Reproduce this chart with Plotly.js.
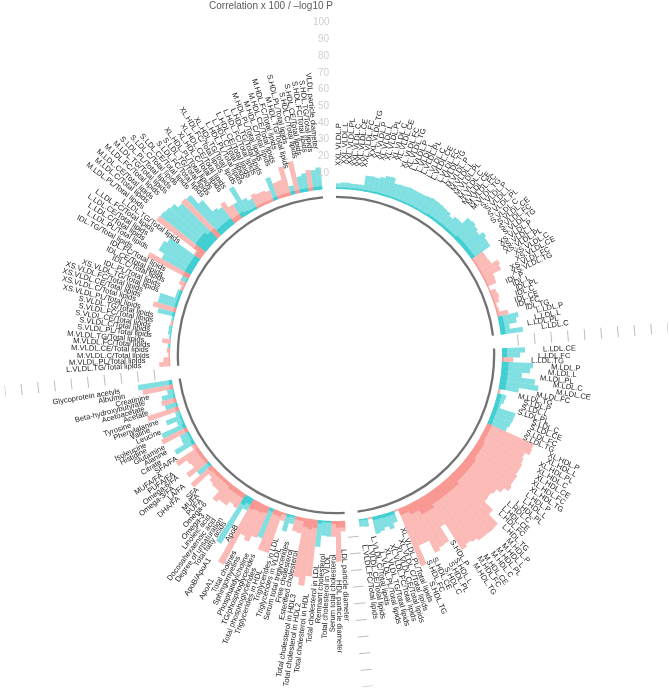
<!DOCTYPE html>
<html>
<head>
<meta charset="utf-8">
<script src="https://cdn.plot.ly/plotly-3.0.1.min.js"></script>
<style>html,body{margin:0;padding:0;background:#fff}#chart{width:669px;height:691px;filter:blur(0.35px)}</style>
</head>
<body>
<div id="chart"></div>
<script>
const labels1 = ["XXL.VLDL.P","XXL.VLDL.L","XXL.VLDL.PL","XXL.VLDL.C","XXL.VLDL.CE","XXL.VLDL.FC","XXL.VLDL.TG",
"XL.VLDL.P","XL.VLDL.L","XL.VLDL.PL","XL.VLDL.C","XL.VLDL.CE","XL.VLDL.FC","XL.VLDL.TG",
"L.VLDL.P","L.VLDL.L","L.VLDL.PL","L.VLDL.C","L.VLDL.CE","L.VLDL.FC","L.VLDL.TG",
"M.VLDL.P","M.VLDL.L","M.VLDL.PL","M.VLDL.C","M.VLDL.CE","M.VLDL.FC","M.VLDL.TG",
"S.VLDL.P","S.VLDL.L","S.VLDL.PL","S.VLDL.C","S.VLDL.CE","S.VLDL.FC","S.VLDL.TG",
"XS.VLDL.P","XS.VLDL.L","XS.VLDL.PL","XS.VLDL.C","XS.VLDL.CE","XS.VLDL.FC","XS.VLDL.TG",
"IDL.P","IDL.L","IDL.PL","IDL.C","IDL.CE","IDL.FC","IDL.TG",
"L.LDL.P","L.LDL.L","L.LDL.PL","L.LDL.C"];
const corr1 = [-3.4,-4,-4,-3.6,-3.6,-3.7,-9.6,-9.8,-9.5,-10.7,-12,-12.3,-9.2,-9.6,-9.8,-10.2,-10,-10,-10,-10.5,-10.9,-10.8,-10.5,-10,-9.6,-8,-9.9,-9.8,-14.5,-15,-14,-12.7,-15.3,-14,-13.8,8,8,8.5,13,12,6.4,6,0.5,3.9,4.5,3.5,1.5,2,6.8,-12.3,-10.6,-6,-13.6];
const logp1 = [1,1,1,1,1,1,1,1,1,1,1,1,1,1,1,1,1,1,1,1,1,1.5,1.5,1.5,1.5,1.5,1.5,1.5,1.5,2.5,2.5,2.5,2.5,2.5,2.5,0.8,0.8,0.8,0.8,0.8,0.8,0.8,0.8,0.8,0.8,0.8,0.8,0.8,0.8,3,3,3,3];

const labels2 = ["L.LDL.CE","L.LDL.FC","L.LDL.TG",
"M.LDL.P","M.LDL.L","M.LDL.PL","M.LDL.C","M.LDL.CE","M.LDL.FC","M.LDL.TG",
"S.LDL.P","S.LDL.L","S.LDL.PL","S.LDL.C","S.LDL.CE","S.LDL.FC","S.LDL.TG",
"XL.HDL.P","XL.HDL.L","XL.HDL.PL","XL.HDL.C","XL.HDL.CE","XL.HDL.FC","XL.HDL.TG",
"L.HDL.P","L.HDL.L","L.HDL.PL","L.HDL.C","L.HDL.CE","L.HDL.FC","L.HDL.TG",
"M.HDL.P","M.HDL.L","M.HDL.PL","M.HDL.C","M.HDL.CE","M.HDL.FC","M.HDL.TG",
"S.HDL.P","S.HDL.L","S.HDL.PL","S.HDL.C","S.HDL.CE","S.HDL.FC","S.HDL.TG",
"XL.VLDL.PL/Total lipids","XL.VLDL.C/Total lipids","XL.VLDL.CE/Total lipids","XL.VLDL.FC/Total lipids","XL.VLDL.TG/Total lipids",
"L.VLDL.PL/Total lipids","L.VLDL.C/Total lipids","L.VLDL.CE/Total lipids","L.VLDL.FC/Total lipids"];
const corr2 = [-13.8,-10.8,6.8,-18.7,-17.2,-12.6,-20.8,-23.3,-12,1.5,-5.5,-5,-3.8,-13.7,-13.5,-13,-12,30.5,31,28,29,30,30,31,31,32,29,26,25,25.5,32.7,40.7,41,40.7,40.7,39,38,39.6,21,31,31.4,33,25,25,37,1,-7,-10,-8,-9.5,-10.5,1,-5,-4.5];
const logp2 = [3,3,1,4,4,4,4,4,4,0.5,2.5,2.5,2.5,2.5,2.5,2.5,2.5,3,3,3,3,4,4,4,4,5.4,5.4,5.4,5.4,5.4,5.4,7,7,7,7,7,7,7,9,9,9,6,6,4,4,0.5,2,2,2,2,2,0.5,0.8,0.8];

const labels3 = ["LDL particle diameter","HDL particle diameter","Serum total cholesterol","Total cholesterol in VLDL","Remnant cholesterol","Total cholesterol in LDL","Total cholesterol in HDL","Total cholesterol in HDL2","Total cholesterol in HDL3","Esterified cholesterol","Free cholesterol","Serum total triglycerides","Triglycerides in VLDL","Triglycerides in LDL","Triglycerides in HDL","Total phosphoglycerides","TG/phosphoglycerides","Phosphatidylcholine","Sphingomyelins","Total cholines","ApoA1","ApoB","ApoB/ApoA1","Total fatty acids","Degree of unsaturation","Docosahexaenoic acid","Linoleic acid","Omega-3","Omega-6","PUFA","MUFA","SFA","DHA/FA","LA/FA","Omega-3/FA","Omega-6/FA","PUFA/FA","MUFA/FA","SFA/FA","Citrate","Alanine","Glutamine","Histidine","Isoleucine","Leucine","Valine","Phenylalanine","Tyrosine","Acetate","Acetoacetate","Beta-hydroxybutyrate","Creatinine","Albumin","Glycoprotein acetyls"];
const corr3 = [6.4,24.4,9.4,-9.5,-9,-16,34,40,35.6,9.5,9,-5,-10.5,5,26,26,-19,20,24,22,43,-8,-33,10,9,12,12,14,8,8,7,5,16.8,-9.3,15,9,10,16,3,-13,-6.4,-6,17,-15.4,-4,-10,-3,19.5,-7.5,9,-8,-4,18.4,-20.7];
const logp3 = [4,4,2,1,1,2,5,6,5,2,2,0.8,1.5,1,3,3,2,4,5,5,6,4,6,3,3,3,3,2,2,2,2,2,3,1.5,2,2,2,2,1,2,1,1,2,2,1,1,0.5,2,1,1.5,1,0.5,2,2];

const labels4 = ["L.VLDL.TG/Total lipids",
"M.VLDL.PL/Total lipids","M.VLDL.C/Total lipids","M.VLDL.CE/Total lipids","M.VLDL.FC/Total lipids","M.VLDL.TG/Total lipids",
"S.VLDL.PL/Total lipids","S.VLDL.C/Total lipids","S.VLDL.CE/Total lipids","S.VLDL.FC/Total lipids","S.VLDL.TG/Total lipids",
"XS.VLDL.PL/Total lipids","XS.VLDL.C/Total lipids","XS.VLDL.CE/Total lipids","XS.VLDL.FC/Total lipids","XS.VLDL.TG/Total lipids",
"IDL.PL/Total lipids","IDL.C/Total lipids","IDL.CE/Total lipids","IDL.FC/Total lipids","IDL.TG/Total lipids",
"L.LDL.PL/Total lipids","L.LDL.C/Total lipids","L.LDL.CE/Total lipids","L.LDL.FC/Total lipids","L.LDL.TG/Total lipids",
"M.LDL.PL/Total lipids","M.LDL.C/Total lipids","M.LDL.CE/Total lipids","M.LDL.FC/Total lipids","M.LDL.TG/Total lipids",
"S.LDL.PL/Total lipids","S.LDL.C/Total lipids","S.LDL.CE/Total lipids","S.LDL.FC/Total lipids","S.LDL.TG/Total lipids",
"XL.HDL.PL/Total lipids","XL.HDL.C/Total lipids","XL.HDL.CE/Total lipids","XL.HDL.FC/Total lipids","XL.HDL.TG/Total lipids",
"L.HDL.PL/Total lipids","L.HDL.C/Total lipids","L.HDL.CE/Total lipids","L.HDL.FC/Total lipids","L.HDL.TG/Total lipids",
"M.HDL.PL/Total lipids","M.HDL.C/Total lipids","M.HDL.CE/Total lipids","M.HDL.FC/Total lipids","M.HDL.TG/Total lipids",
"S.HDL.PL/Total lipids","S.HDL.C/Total lipids","S.HDL.CE/Total lipids","S.HDL.FC/Total lipids","S.HDL.TG/Total lipids",
"VLDL particle diameter"];
const corr4 = [6.6,4,1,2,-1.5,5,-1,-2,-2,1.5,-1.5,-10.5,14.2,-12,-12,-3,-3,2,4,-4,28,-20,-24,-24,-22,5,35,-34.7,-34,-33,-30,30.8,-30,-23,-14,-12.4,14.3,10,-9.6,-18.9,-9,-7,9,8,8,7,-14.3,10,10.4,18,-5.4,19.6,-9.7,-11,12.6,-12.1,-13.4];
const logp4 = [0.4,0.4,0.4,0.4,0.4,0.4,0.4,0.4,0.4,0.4,0.4,1.5,1.5,1.5,1.5,1.5,1.5,0.8,0.8,0.8,4,4,4,4,4,4,7,8,8,8,6,6,4,4,4,4,3,3,3,2,1.5,1.5,1.5,1.5,1.5,1.5,2,2,2,2,2,2,2,2,2,2,2];

const tickValues = [10,20,30,40,50,60,70,80,90,100];
const titleText = "Correlation x 100 / \u2013log10 P";
const sectionLabels = [labels1, labels2, labels3, labels4];
const sectionCorr = [corr1, corr2, corr3, corr4];
const sectionLogp = [logp1, logp2, logp3, logp4];

const POS = "#F8766D", NEG = "#00BFC4";
const W = 669, H = 691, CX = 336, CY = 355, R = 333;
const PX_PER_UNIT = 1.67, R0 = 166, GAP_SLOTS = 3;
const totalSlots = sectionLabels.reduce((a, s) => a + s.length + GAP_SLOTS, 0);
const step = 360 / totalSlots;
const rMin = -R0 / PX_PER_UNIT, rMax = rMin + R / PX_PER_UNIT;

const theta = [], corrAbs = [], logp = [], colors = [], labels = [];
const ringTheta = [], ringWidth = [], gapCentre = [];
let slot = 0;
sectionLabels.forEach((names, s) => {
  ringTheta.push((slot + names.length / 2) * step);
  ringWidth.push(names.length * step);
  names.forEach((n, i) => {
    theta.push((slot + i + 0.5) * step);
    corrAbs.push(Math.abs(sectionCorr[s][i]));
    logp.push(sectionLogp[s][i]);
    colors.push(sectionCorr[s][i] >= 0 ? POS : NEG);
    labels.push(n);
  });
  slot += names.length;
  gapCentre.push((slot + GAP_SLOTS / 2) * step);
  slot += GAP_SLOTS;
});

// tick marks in the three lower gaps
const tTheta = [], tR = [];
gapCentre.slice(0, 3).forEach(c => {
  tickValues.forEach(v => {
    const half = 5.5 / (R0 + v * PX_PER_UNIT) * 180 / Math.PI;
    tTheta.push(c - half, c + half, null);
    tR.push(v, v, null);
  });
});

const barBase = {type: "barpolar", hoverinfo: "skip", showlegend: false};
const traces = [
  Object.assign({}, barBase, {theta: ringTheta, width: ringWidth, r: ringTheta.map(() => 1.4), base: ringTheta.map(() => -5.4),
    marker: {color: "#727272", line: {width: 0}}}),
  Object.assign({}, barBase, {theta: theta, width: theta.map(() => step), r: corrAbs,
    marker: {color: colors, opacity: 0.5, line: {width: 0}}}),
  Object.assign({}, barBase, {theta: theta, width: theta.map(() => step), r: logp,
    marker: {color: colors, opacity: 0.5, line: {width: 0}}}),
  {type: "scatterpolar", mode: "lines", theta: tTheta, r: tR, hoverinfo: "skip", showlegend: false,
    connectgaps: false, line: {color: "#bdbdbd", width: 1}}
];

// rotated labels: centre each text on the radial line, just past its own bar
const canvas = document.createElement("canvas").getContext("2d");
const LABEL_PX = 7.6;
canvas.font = LABEL_PX + 'px "Liberation Sans"';
const annotations = labels.map((text, i) => {
  const t = theta[i], rad = t * Math.PI / 180;
  const start = R0 + PX_PER_UNIT * (Math.max(corrAbs[i], logp[i]) + 10.8);
  const len = canvas.measureText(text).width;
  const rc = start + len / 2;
  const rightSide = t < 180;
  return {
    xref: "paper", yref: "paper",
    x: (CX + rc * Math.sin(rad)) / W, y: 1 - (CY - rc * Math.cos(rad)) / H,
    xanchor: "center", yanchor: "middle", showarrow: false, text: text,
    textangle: rightSide ? t - 90 : t - 270,
    borderpad: 0, borderwidth: 0,
    font: {family: "Liberation Sans", size: LABEL_PX, color: "#222222"}
  };
});
tickValues.forEach(v => {
  annotations.push({
    xref: "paper", yref: "paper", x: 332 / W, y: 1 - (CY - R0 - v * PX_PER_UNIT) / H,
    xanchor: "right", yanchor: "middle", showarrow: false, text: String(v),
    font: {family: "Liberation Sans", size: 10, color: "#cfcfcf"}
  });
});

Plotly.newPlot("chart", traces, {
  width: W, height: H, paper_bgcolor: "#fff", plot_bgcolor: "#fff",
  margin: {l: 0, r: 0, t: 0, b: 0}, showlegend: false,
  title: {text: titleText, x: 333 / W, xanchor: "right", xref: "paper", y: 1 - 5.5 / H, yanchor: "middle",
    font: {family: "Liberation Sans", size: 10, color: "#5a5a5a"}},
  polar: {
    domain: {x: [(CX - R) / W, (CX + R) / W], y: [1 - (CY + R) / H, 1 - (CY - R) / H]},
    bgcolor: "rgba(0,0,0,0)", barmode: "overlay", bargap: 0,
    angularaxis: {visible: false, direction: "clockwise", rotation: 90, thetaunit: "degrees", showgrid: false},
    radialaxis: {visible: false, range: [rMin, rMax], showgrid: false}
  },
  annotations: annotations
}, {displayModeBar: false, staticPlot: true});
</script>
</body>
</html>
